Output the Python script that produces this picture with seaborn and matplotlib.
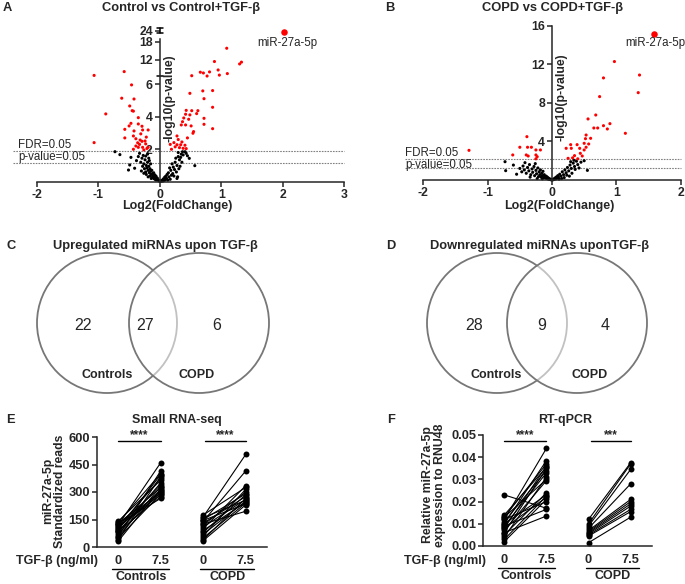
import numpy as np
import pandas as pd
import matplotlib
matplotlib.use("Agg")
import matplotlib.pyplot as plt
import matplotlib.transforms as mtransforms
from matplotlib.patches import Circle
import seaborn as sns

# ---------------- DATA ----------------
# Panel A : Control vs Control+TGF-b  (log2FC, -log10 p)
A_red_x = [-1.07, -0.58, -0.46, -0.62, -0.42, -0.49, -0.45, -0.43, -0.88, -0.35, -0.50, -0.35, -0.29,
           -0.57, -0.42, -0.28, -0.19, -0.57, -0.43, -0.39, -0.32, -0.36, -0.29, -0.24, -0.23, -0.39,
           -0.35, -0.43, -0.28, -0.19, -1.07, -0.26, -0.31, -0.22, -0.47, -0.33, -0.21,
           1.09, 0.89, 1.30, 1.33, 0.95, 0.81, 0.66, 0.71, 0.77, 0.97, 1.10, 0.52, 0.70, 0.86, 0.49,
           0.72, 0.86, 0.43, 0.52, 0.62, 0.42, 0.49, 0.39, 0.47, 0.72, 0.35, 0.42, 0.51, 0.72, 0.86,
           0.55, 0.54, 0.28, 0.23, 0.28, 0.34, 0.41, 0.32, 0.38, 0.43, 0.25, 0.19, 0.30, 0.45, 0.36,
           0.60, 0.17, 0.37]
A_red_y = [6.8, 8.06, 5.97, 5.15, 5.10, 4.67, 4.38, 4.35, 4.18, 3.95, 3.44, 3.56, 3.42,
           3.23, 3.13, 3.19, 3.19, 2.70, 2.82, 2.65, 2.57, 2.40, 2.49, 2.51, 2.33, 2.20,
           2.12, 2.00, 2.12, 2.12, 2.41, 1.96, 2.95, 2.75, 3.60, 2.30, 2.05,
           15.8, 11.4, 10.6, 11.2, 8.6, 7.96, 7.86, 7.6, 6.6, 6.9, 7.4, 6.7, 5.6, 5.62, 5.45,
           5.12, 4.59, 4.40, 4.38, 4.38, 4.16, 4.12, 3.93, 3.85, 3.91, 3.50, 3.50, 3.44, 3.54, 3.27,
           3.09, 2.99, 2.82, 2.41, 2.28, 2.28, 2.25, 2.10, 2.06, 2.04, 2.15, 2.00, 2.60, 2.70, 2.45,
           4.20, 2.30, 3.70]
A_blk_x = [-0.73, -0.65, -0.47, -0.49, -0.51, -0.41, -0.30, -0.38, -0.35, -0.33, -0.31, -0.29, -0.28,
           -0.27, -0.26, -0.25, -0.24, -0.23, -0.22, -0.21, -0.20, -0.19, -0.18, -0.17, -0.16, -0.15,
           -0.14, -0.13, -0.12, -0.11, -0.10, -0.09, -0.08, -0.07, -0.06, -0.05, -0.04, -0.03, -0.02,
           -0.01, -0.16, -0.12, -0.08, -0.22, -0.19, -0.26, -0.14, -0.06, -0.10, -0.18, -0.23, -0.15,
           -0.20, -0.17,
           0.57, 0.48, 0.41, 0.30, 0.35, 0.25, 0.38, 0.43, 0.32, 0.28, 0.22, 0.26, 0.20, 0.24, 0.18,
           0.16, 0.14, 0.21, 0.12, 0.19, 0.10, 0.15, 0.08, 0.11, 0.06, 0.09, 0.04, 0.03, 0.02, 0.01,
           0.27, 0.33, 0.29, 0.23, 0.17, 0.13, 0.36, 0.31, 0.05, 0.07, 0.34, 0.37, 0.30, 0.28, 0.45]
A_blk_y = [1.85, 1.67, 1.50, 1.03, 0.72, 0.83, 0.66, 1.30, 1.55, 1.75, 1.20, 1.45, 0.95,
           1.62, 1.10, 0.80, 1.35, 0.60, 1.00, 0.85, 1.20, 0.70, 0.95, 0.55, 0.80, 0.65,
           0.45, 0.70, 0.50, 0.38, 0.55, 0.30, 0.42, 0.25, 0.33, 0.18, 0.22, 0.12, 0.08,
           0.04, 0.35, 0.28, 0.15, 0.45, 0.30, 0.52, 0.20, 0.10, 0.20, 1.45, 1.58, 1.10,
           1.70, 1.30,
           0.99, 1.44, 1.85, 1.55, 1.70, 1.20, 1.65, 1.75, 1.35, 1.00, 0.90, 1.45, 1.10, 0.75, 0.70,
           0.85, 0.55, 0.50, 0.45, 0.40, 0.35, 0.30, 0.28, 0.20, 0.18, 0.12, 0.10, 0.06, 0.04, 0.02,
           0.60, 0.95, 0.30, 0.35, 0.15, 0.10, 1.20, 0.80, 0.04, 0.08, 1.50, 1.85, 1.80, 0.20, 1.60]
A_hi = (2.03, 23.5)

# Panel B : COPD vs COPD+TGF-b
B_red_x = [-1.29, -0.39, -0.50, -0.38, -0.32, -0.25, -0.18, -0.61, -0.40, -0.37, -0.25, -0.23, -0.25,
           0.97, 1.36, 0.80, 1.34, 0.74, 0.68, 0.56, 0.90, 0.80, 0.65, 0.71, 0.86, 1.14, 0.53, 0.52,
           0.60, 0.50, 0.57, 0.39, 0.29, 0.22, 0.30, 0.43, 0.50, 0.53, 0.44, 0.35, 0.47, 0.25, 0.32, 0.40]
B_red_y = [3.08, 4.50, 3.40, 3.40, 3.40, 3.12, 3.12, 2.60, 2.60, 2.49, 2.60, 2.42, 2.20,
           12.3, 10.9, 10.6, 9.07, 8.66, 6.75, 6.34, 5.85, 5.64, 5.40, 5.40, 5.30, 4.85, 4.67, 4.29,
           4.33, 3.81, 3.74, 3.67, 3.67, 3.29, 3.29, 3.29, 3.12, 3.40, 2.77, 2.53, 2.49, 2.25, 2.30, 2.20]
B_blk_x = [-0.73, -0.72, -0.60, -0.50, -0.47, -0.45, -0.43, -0.40, -0.38, -0.36, -0.35, -0.33, -0.31,
           -0.30, -0.28, -0.27, -0.25, -0.24, -0.22, -0.21, -0.20, -0.19, -0.18, -0.17, -0.16, -0.15,
           -0.14, -0.13, -0.12, -0.11, -0.10, -0.09, -0.08, -0.07, -0.06, -0.05, -0.04, -0.03, -0.02,
           -0.01, -0.55, -0.42, -0.26, -0.23, -0.15, -0.34,
           0.55, 0.50, 0.45, 0.40, 0.38, 0.35, 0.33, 0.30, 0.28, 0.26, 0.24, 0.22, 0.20, 0.18, 0.16,
           0.14, 0.12, 0.10, 0.09, 0.08, 0.07, 0.06, 0.05, 0.04, 0.03, 0.02, 0.01, 0.27, 0.31, 0.36,
           0.42, 0.19, 0.15, 0.11, 0.23, 0.29, 0.34]
B_blk_y = [1.90, 0.97, 1.55, 1.20, 0.85, 1.45, 1.05, 0.70, 1.30, 0.95, 1.60, 0.55, 1.15,
           0.80, 1.40, 0.45, 1.00, 0.65, 1.25, 0.35, 0.85, 0.55, 1.05, 0.30, 0.70, 0.45,
           0.90, 0.25, 0.55, 0.35, 0.20, 0.40, 0.15, 0.28, 0.10, 0.18, 0.06, 0.10, 0.04,
           0.02, 0.60, 1.80, 1.70, 0.15, 0.12, 0.30,
           1.00, 2.00, 1.85, 1.60, 1.95, 1.40, 1.75, 1.20, 1.55, 0.95, 1.30, 0.75, 1.05, 0.55, 0.85,
           0.40, 0.60, 0.30, 0.45, 0.20, 0.32, 0.12, 0.22, 0.08, 0.12, 0.04, 0.02, 0.40, 0.70, 1.10,
           1.25, 0.25, 0.15, 0.10, 0.50, 1.90, 2.05]
B_hi = (1.58, 15.2)

# Venn counts
venn_up = [22, 27, 6]
venn_down = [28, 9, 4]

# Panel E : Small RNA-seq standardized reads (paired)
E_ctrl_0 = [120, 60, 135, 95, 40, 110, 140, 80, 100, 55, 125, 32, 90, 105, 70, 132, 48, 115, 85, 128]
E_ctrl_75 = [460, 415, 400, 395, 385, 375, 365, 350, 340, 330, 325, 318, 310, 305, 300, 295, 290, 285, 275, 265]
E_copd_0 = [165, 140, 100, 175, 60, 120, 150, 80, 130, 40, 110, 160, 70, 90, 50, 145, 35, 125]
E_copd_75 = [505, 415, 335, 325, 315, 300, 290, 285, 275, 265, 260, 255, 250, 245, 240, 235, 230, 195]

# Panel F : RT-qPCR relative expression (paired)
F_ctrl_0 = [0.012, 0.010, 0.013, 0.008, 0.014, 0.006, 0.011, 0.009, 0.004, 0.013, 0.007, 0.005, 0.010,
            0.003, 0.008, 0.002, 0.012, 0.006, 0.023, 0.009]
F_ctrl_75 = [0.044, 0.0385, 0.037, 0.036, 0.0355, 0.035, 0.034, 0.033, 0.031, 0.030, 0.0295, 0.024, 0.023,
             0.0225, 0.022, 0.021, 0.020, 0.0135, 0.017, 0.0165]
F_copd_0 = [0.012, 0.010, 0.009, 0.008, 0.007, 0.0065, 0.006, 0.005, 0.0045, 0.0015, 0.0055]
F_copd_75 = [0.0375, 0.037, 0.0345, 0.028, 0.021, 0.020, 0.019, 0.0165, 0.0155, 0.013, 0.018]

tick_labels_pair = ["0", "7.5", "0", "7.5"]

# ---------------- STYLE ----------------
sns.set_style("ticks")
plt.rcParams["font.family"] = ["Liberation Sans", "DejaVu Sans"]
plt.rcParams["axes.linewidth"] = 1.1
plt.rcParams["xtick.major.width"] = 1.1
plt.rcParams["ytick.major.width"] = 1.1

W, H = 685, 584
fig = plt.figure(figsize=(W / 100, H / 100), dpi=100)


def ax_px(l, t, r, b):
    return fig.add_axes([l / W, 1 - b / H, (r - l) / W, (b - t) / H])


def ftext(x, y, s, **kw):
    fig.text(x / W, 1 - y / H, s, **kw)


# ---------------- VOLCANO ----------------
def volcano(ax, rx, ry, bx, by, hi):
    df = pd.DataFrame({"fc": list(bx) + list(rx),
                       "p": list(by) + list(ry),
                       "sig": ["ns"] * len(bx) + ["sig"] * len(rx)})
    sns.scatterplot(data=df, x="fc", y="p", hue="sig", palette={"ns": "black", "sig": "#ff0000"},
                    s=5, linewidth=0, legend=False, ax=ax, clip_on=False)
    sns.scatterplot(x=[hi[0]], y=[hi[1]], color="#ff0000", s=22, linewidth=0, ax=ax, clip_on=False)
    for s in ["top", "right"]:
        ax.spines[s].set_visible(False)
    ax.spines["left"].set_position(("data", 0))
    ax.spines["bottom"].set_position(("data", 0))
    ax.set_xlabel("")
    ax.set_ylabel("")
    ax.tick_params(axis="both", length=3.5, labelsize=8.8, pad=1.5)


# Panel A
YA_DATA = [0, 6.5, 18, 24, 30]
YA_DISP = [0, 6.5, 8.64, 9.32, 10.0]
axA = ax_px(37, 26, 344, 181.7)
axA.set_yscale("function", functions=(lambda y: np.interp(y, YA_DATA, YA_DISP),
                                      lambda y: np.interp(y, YA_DISP, YA_DATA)))
volcano(axA, A_red_x, A_red_y, A_blk_x, A_blk_y, A_hi)
axA.set_xlim(-2, 3)
axA.set_ylim(0, 26.5)
axA.set_xticks([-2, -1, 0, 1, 2, 3])
axA.set_yticks([2, 4, 6, 12, 18, 24])
axA.set_xticklabels(["-2", "-1", "0", "1", "2", "3"], fontweight="bold")
axA.set_yticklabels(["2", "4", "6", "12", "18", "24"], fontweight="bold")
axA.spines["left"].set_bounds(0, 19.5)
axA.plot([0, 0], [22.6, 25.2], color="black", lw=1.1, clip_on=False)
for yb in [6.5, 22.6, 25.2]:
    axA.plot([-0.05, 0.05], [yb, yb], color="black", lw=1.1, clip_on=False)
for yl in [1.91, 1.13]:
    axA.plot([-2.39, 3.0], [yl, yl], color="#808080", lw=0.8, ls=(0, (1.5, 1)), clip_on=False, zorder=0)
ftext(18, 145.5, "FDR=0.05", fontsize=8.3, va="center", ha="left")
ftext(18, 157, "p-value=0.05", fontsize=8.3, va="center", ha="left")
ftext(257, 43, "miR-27a-5p", fontsize=8.3, va="center", ha="left")
ftext(170, 98, "-log10(p-value)", fontsize=8.8, fontweight="bold", rotation=90, va="center", ha="center")
ftext(177, 206, "Log2(FoldChange)", fontsize=9, fontweight="bold", va="center", ha="center")
ftext(181, 8, "Control vs Control+TGF-β", fontsize=9.3, fontweight="bold", va="center", ha="center")
ftext(3, 8, "A", fontsize=9.3, fontweight="bold", va="center", ha="left")

# Panel B
axB = ax_px(423.3, 24, 680.7, 180)
volcano(axB, B_red_x, B_red_y, B_blk_x, B_blk_y, B_hi)
axB.set_xlim(-2, 2)
axB.set_ylim(0, 16.2)
axB.set_xticks([-2, -1, 0, 1, 2])
axB.set_yticks([4, 8, 12, 16])
axB.set_xticklabels(["-2", "-1", "0", "1", "2"], fontweight="bold")
axB.set_yticklabels(["4", "8", "12", "16"], fontweight="bold")
axB.spines["left"].set_bounds(0, 16)
for yl in [2.14, 1.22]:
    axB.plot([-2.29, 2.0], [yl, yl], color="#808080", lw=0.8, ls=(0, (1.5, 1)), clip_on=False, zorder=0)
ftext(405, 153, "FDR=0.05", fontsize=8.3, va="center", ha="left")
ftext(405, 165, "p-value=0.05", fontsize=8.3, va="center", ha="left")
ftext(625, 43, "miR-27a-5p", fontsize=8.3, va="center", ha="left")
ftext(562, 97, "-log10(p-value)", fontsize=8.8, fontweight="bold", rotation=90, va="center", ha="center")
ftext(559, 206, "Log2(FoldChange)", fontsize=9, fontweight="bold", va="center", ha="center")
ftext(553, 8, "COPD vs COPD+TGF-β", fontsize=9.3, fontweight="bold", va="center", ha="center")
ftext(385, 8, "B", fontsize=9.3, fontweight="bold", va="center", ha="left")

# ---------------- VENN ----------------
axV = ax_px(0, 225, 685, 400)
axV.set_xlim(0, 685)
axV.set_ylim(400, 225)
axV.axis("off")


def venn(cx_l, cx_r, counts, xs):
    axV.add_patch(Circle((cx_l, 323), 70, fill=False, ec="#777777", lw=1.3))
    axV.add_patch(Circle((cx_r, 323), 70, fc=(1, 1, 1, 0.55), ec="#777777", lw=1.3))
    for x, c in zip(xs, counts):
        axV.text(x, 326, str(c), fontsize=11.5, ha="center", va="center")


venn(107, 199, venn_up, [83, 145, 217])
venn(497, 577, venn_down, [474, 542, 605])
axV.text(107, 375, "Controls", fontsize=9, fontweight="bold", ha="center", va="center")
axV.text(197, 375, "COPD", fontsize=9, fontweight="bold", ha="center", va="center")
axV.text(496, 375, "Controls", fontsize=9, fontweight="bold", ha="center", va="center")
axV.text(590, 375, "COPD", fontsize=9, fontweight="bold", ha="center", va="center")
ftext(155, 246, "Upregulated miRNAs upon TGF-β", fontsize=9.3, fontweight="bold", ha="center", va="center")
ftext(540, 246, "Downregulated miRNAs uponTGF-β", fontsize=9.3, fontweight="bold", ha="center", va="center")
ftext(6, 246, "C", fontsize=9.3, fontweight="bold", ha="left", va="center")
ftext(386, 246, "D", fontsize=9.3, fontweight="bold", ha="left", va="center")


# ---------------- PAIRED PLOTS ----------------
def paired(ax, c0, c75, p0, p75, ymax, yticks, yfmt, sig_y, stars):
    rows = []
    pid = 0
    for a, b in zip(c0, c75):
        rows += [(pid, 0, a), (pid, 1, b)]
        pid += 1
    for a, b in zip(p0, p75):
        rows += [(pid, 2, a), (pid, 3, b)]
        pid += 1
    df = pd.DataFrame(rows, columns=["pid", "pos", "val"])
    sns.lineplot(data=df, x="pos", y="val", units="pid", estimator=None, sort=False,
                 color="black", lw=0.8, marker="o", markersize=4.3, markeredgewidth=0,
                 legend=False, ax=ax, clip_on=False)
    ax.set_xlim(-0.5, 3.5)
    ax.set_ylim(0, ymax)
    sns.despine(ax=ax)
    ax.set_xlabel("")
    ax.set_ylabel("")
    ax.set_yticks(yticks)
    ax.set_yticklabels([yfmt.format(v) for v in yticks], fontweight="bold", fontsize=9.3)
    ax.set_xticks([0, 1, 2, 3])
    ax.set_xticklabels(tick_labels_pair, fontweight="bold", fontsize=9.3)
    ax.tick_params(axis="x", length=0, pad=6)
    ax.tick_params(axis="y", length=3.5, pad=1.5)
    trans = mtransforms.blended_transform_factory(ax.transData, ax.transAxes)
    for (x0, x1), st in zip([(0, 1), (2.05, 3.0)], stars):
        ax.plot([x0, x1], [sig_y, sig_y], color="black", lw=1.0, clip_on=False)
        ax.text((x0 + x1) / 2, sig_y, st, fontsize=8.5, fontweight="bold", ha="center", va="bottom")
    for x0, x1, name in [(-0.14, 1.2, "Controls"), (1.93, 3.2, "COPD")]:
        ax.plot([x0, x1], [-0.2, -0.2], color="black", lw=1.0, transform=trans, clip_on=False)
        ax.text((x0 + x1) / 2, -0.27, name, fontsize=9, fontweight="bold", ha="center", va="center",
                transform=trans)


axE = ax_px(97, 437, 267, 547)
paired(axE, E_ctrl_0, E_ctrl_75, E_copd_0, E_copd_75, 600, [0, 150, 300, 450, 600], "{:.0f}",
       580, ["****", "****"])
ftext(98, 561, "TGF-β (ng/ml)", fontsize=9, fontweight="bold", ha="right", va="center")
ftext(177, 420, "Small RNA-seq", fontsize=9, fontweight="bold", ha="center", va="center")
ftext(6, 420, "E", fontsize=9.3, fontweight="bold", ha="left", va="center")
ftext(54, 491, "miR-27a-5p\nStandardized reads", fontsize=8.8, fontweight="bold", rotation=90,
      ha="center", va="center", multialignment="center", linespacing=1.0)

axF = ax_px(483.3, 435, 651.7, 546)
paired(axF, F_ctrl_0, F_ctrl_75, F_copd_0, F_copd_75, 0.05, [0, 0.01, 0.02, 0.03, 0.04, 0.05], "{:.2f}",
       0.0473, ["****", "***"])
ftext(486, 561, "TGF-β (ng/ml)", fontsize=9, fontweight="bold", ha="right", va="center")
ftext(565, 420, "RT-qPCR", fontsize=9, fontweight="bold", ha="center", va="center")
ftext(387, 420, "F", fontsize=9.3, fontweight="bold", ha="left", va="center")
ftext(434, 485, "Relative miR-27a-5p\nexpression to RNU48", fontsize=8.8, fontweight="bold", rotation=90,
      ha="center", va="center", multialignment="center", linespacing=1.0)

fig.savefig("out.png", dpi=100)
